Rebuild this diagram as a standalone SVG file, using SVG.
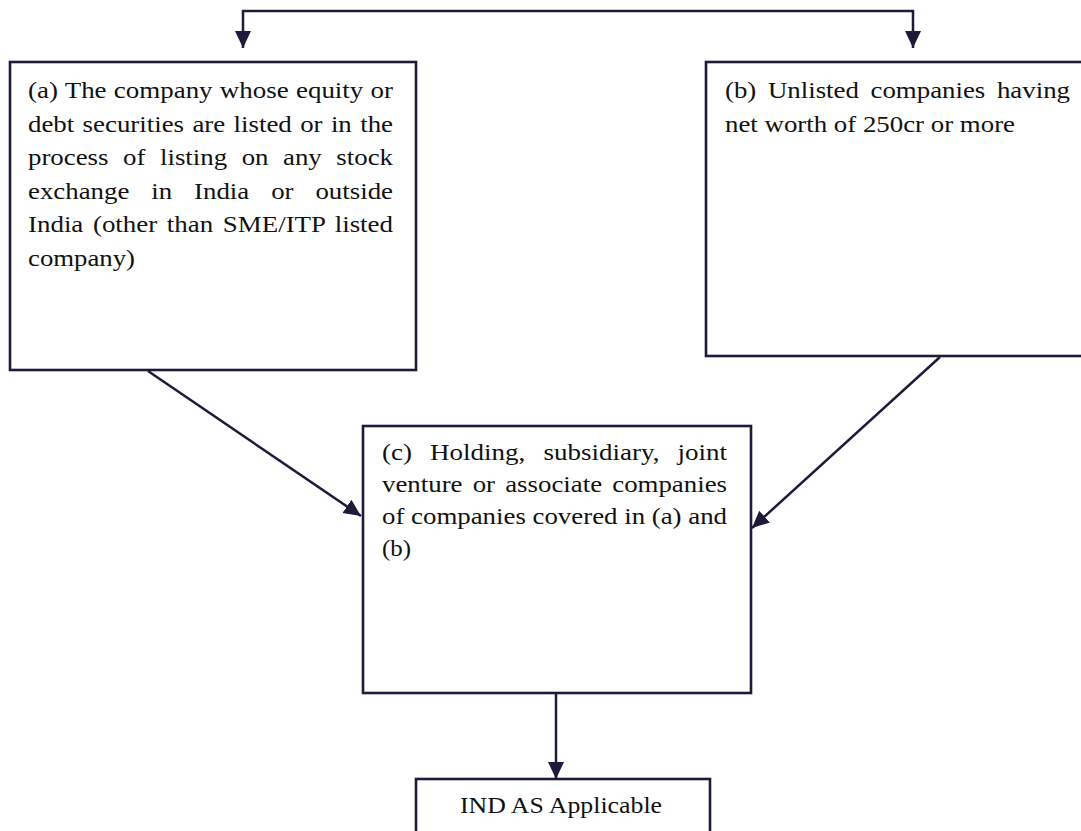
<svg xmlns="http://www.w3.org/2000/svg" width="1081" height="831" viewBox="0 0 1081 831">
  <defs>
    <marker id="arrow" markerUnits="userSpaceOnUse" markerWidth="18" markerHeight="17" refX="17" refY="8" orient="auto" viewBox="0 0 18 17">
      <path d="M0,0 L17,8 L0,16 z" fill="#1e1b3a"/>
    </marker>
    <style>
      .box { fill: #ffffff; stroke: #1e1b3a; stroke-width: 2.6; }
      .conn { fill: none; stroke: #1e1b3a; stroke-width: 2.5; marker-end: url(#arrow); }
      .txt { font-family: "Liberation Serif", "Times New Roman", serif; font-size: 24px; fill: #111111; }
    </style>
  </defs>
  <rect width="1081" height="831" fill="#ffffff"/>

  <g id="connectors">
    <path d="M578,11 H243 V48" class="conn"/>
    <path d="M578,11 H913 V48" class="conn"/>
    <path d="M148,371 L361,516" class="conn"/>
    <path d="M940,357 L752,528" class="conn"/>
    <path d="M556,693 V779" class="conn"/>
  </g>

  <g id="node-a">
    <rect class="box" x="10" y="62" width="406" height="308"/>
    <text class="txt" x="28" y="98" textLength="365" lengthAdjust="spacingAndGlyphs" style="word-spacing:0.5px">(a) The company whose equity or</text>
    <text class="txt" x="28" y="131.5" textLength="365" lengthAdjust="spacingAndGlyphs" style="word-spacing:1.5px">debt securities are listed or in the</text>
    <text class="txt" x="28" y="165" textLength="365" lengthAdjust="spacingAndGlyphs" style="word-spacing:7px">process of listing on any stock</text>
    <text class="txt" x="28" y="198.5" textLength="365" lengthAdjust="spacingAndGlyphs" style="word-spacing:13.6px">exchange in India or outside</text>
    <text class="txt" x="28" y="232" textLength="365" lengthAdjust="spacingAndGlyphs" style="word-spacing:2.6px">India (other than SME/ITP listed</text>
    <text class="txt" x="28" y="265.5" textLength="107" lengthAdjust="spacingAndGlyphs">company)</text>
  </g>

  <g id="node-b">
    <rect class="box" x="706" y="62" width="390" height="294"/>
    <text class="txt" x="725" y="98" textLength="345" lengthAdjust="spacingAndGlyphs" style="word-spacing:4.4px">(b) Unlisted companies having</text>
    <text class="txt" x="725" y="131.5" textLength="290" lengthAdjust="spacingAndGlyphs">net worth of 250cr or more</text>
  </g>

  <g id="node-c">
    <rect class="box" x="363" y="426" width="388" height="267"/>
    <text class="txt" x="382" y="459.5" textLength="345" lengthAdjust="spacingAndGlyphs" style="word-spacing:10.1px">(c) Holding, subsidiary, joint</text>
    <text class="txt" x="382" y="491.5" textLength="345" lengthAdjust="spacingAndGlyphs" style="word-spacing:3.1px">venture or associate companies</text>
    <text class="txt" x="382" y="523.5" textLength="345" lengthAdjust="spacingAndGlyphs">of companies covered in (a) and</text>
    <text class="txt" x="382" y="555.5" textLength="29" lengthAdjust="spacingAndGlyphs">(b)</text>
  </g>

  <g id="node-d">
    <rect class="box" x="416" y="779" width="294" height="70"/>
    <text class="txt" x="460" y="813" textLength="202" lengthAdjust="spacingAndGlyphs">IND AS Applicable</text>
  </g>
</svg>
